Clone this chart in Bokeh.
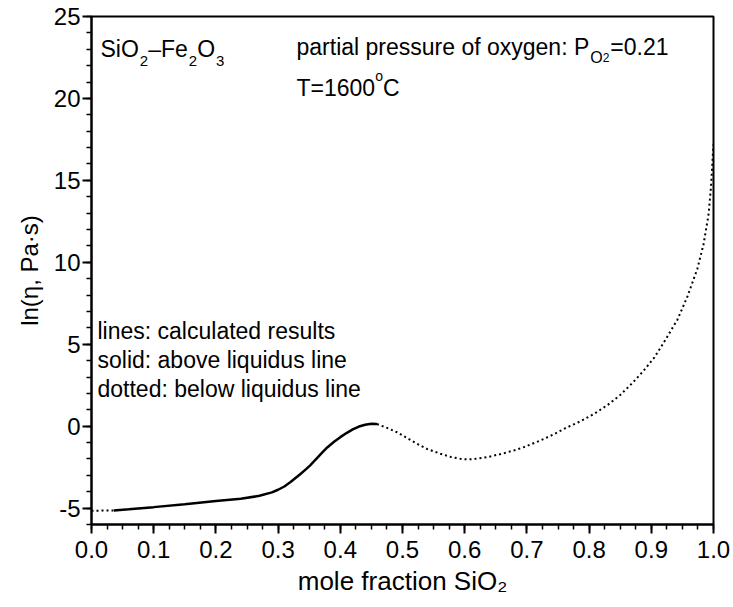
from bokeh.plotting import figure
from bokeh.models import Label, SingleIntervalTicker, PrintfTickFormatter, Range1d
from bokeh.embed import file_html
from bokeh.resources import INLINE

# ---- data ----
solid_x = [0.036, 0.06, 0.10, 0.15, 0.20, 0.24, 0.27, 0.29, 0.30, 0.31, 0.32, 0.335, 0.345,
           0.352, 0.36, 0.37, 0.379, 0.39, 0.40, 0.41, 0.42, 0.43, 0.44, 0.45, 0.459]
solid_y = [-5.14, -5.07, -4.94, -4.76, -4.57, -4.43, -4.25, -4.04, -3.88, -3.68, -3.41, -2.95,
           -2.62, -2.38, -2.05, -1.65, -1.30, -0.95, -0.67, -0.42, -0.20, -0.02, 0.09, 0.15, 0.13]

dot1_x = [0.0, 0.036]
dot1_y = [-5.16, -5.14]

dot2_x = [0.459, 0.475, 0.491, 0.507, 0.523, 0.54, 0.561, 0.578, 0.593, 0.605, 0.615, 0.635,
          0.658, 0.68, 0.695, 0.722, 0.743, 0.762, 0.785, 0.808, 0.83, 0.85, 0.87, 0.888,
          0.905, 0.92, 0.942, 0.958, 0.974, 0.984, 0.992, 0.996, 0.999, 1.0]
dot2_y = [0.13, -0.10, -0.37, -0.72, -1.07, -1.40, -1.68, -1.88, -1.99, -2.03, -2.00, -1.90,
          -1.70, -1.47, -1.28, -0.87, -0.50, -0.12, 0.28, 0.75, 1.30, 1.90, 2.65, 3.40,
          4.20, 5.10, 6.50, 7.90, 9.60, 11.10, 12.90, 14.60, 16.60, 17.20]

x_start, x_end = 0.0, 1.0
y_start, y_end = -6, 25
x_tick_step = 0.1
y_tick_step = 5

y_label = "ln(η, Pa·s)"
x_label = "mole fraction SiO₂"

FONT = "Liberation Sans"

# Arial / Liberation Sans advance widths (per 1000 em)
W = {' ': 278, ':': 278, '.': 278, ',': 278, '=': 584, '–': 556, '(': 333, ')': 333,
     'A': 667, 'C': 722, 'F': 611, 'O': 778, 'P': 667, 'S': 667, 'T': 611,
     'a': 556, 'b': 556, 'c': 500, 'd': 556, 'e': 556, 'f': 278, 'g': 556, 'h': 556,
     'i': 222, 'l': 222, 'm': 833, 'n': 556, 'o': 556, 'p': 556, 'q': 556, 'r': 333,
     's': 500, 't': 278, 'u': 556, 'v': 500, 'w': 722, 'x': 500, 'y': 500, 'z': 500}
for d in "0123456789":
    W[d] = 556


def tw(s, size):
    return sum(W.get(c, 556) for c in s) / 1000.0 * size


# frame geometry in page pixels (used only to place annotations)
CW, CH = 733, 607
FL, FR, FT, FB = 91, 713, 16, 524


def dx(xr):
    return x_start + (xr - FL) / (FR - FL) * (x_end - x_start)


def dy(yr):
    return y_start + (FB - yr) / (FB - FT) * (y_end - y_start)


p = figure(width=CW, height=CH, output_backend="svg", toolbar_location=None,
           x_range=Range1d(x_start, x_end), y_range=Range1d(y_start, y_end),
           min_border_left=FL, min_border_right=CW - FR, min_border_top=FT,
           min_border_bottom=CH - FB)

p.background_fill_color = "white"
p.border_fill_color = "white"
p.outline_line_color = "black"
p.outline_line_width = 2
p.xgrid.visible = False
p.ygrid.visible = False

p.xaxis.ticker = SingleIntervalTicker(interval=x_tick_step, num_minor_ticks=4)
p.yaxis.ticker = SingleIntervalTicker(interval=y_tick_step, num_minor_ticks=5)
p.xaxis.formatter = PrintfTickFormatter(format="%.1f")
p.yaxis.formatter = PrintfTickFormatter(format="%d")

for ax in (p.xaxis, p.yaxis):
    ax.axis_line_color = "black"
    ax.axis_line_width = 2
    ax.major_tick_line_color = "black"
    ax.major_tick_line_width = 2
    ax.minor_tick_line_color = "black"
    ax.minor_tick_line_width = 1.5
    ax.major_tick_in = 0
    ax.major_tick_out = 9
    ax.minor_tick_in = 0
    ax.minor_tick_out = 5
    ax.major_label_text_font = FONT
    ax.major_label_text_font_size = "24px"
    ax.major_label_text_color = "black"
    ax.axis_label_text_font = FONT
    ax.axis_label_text_font_style = "normal"
    ax.axis_label_text_color = "black"

p.yaxis.major_label_standoff = 2
p.xaxis.major_label_standoff = 7
p.yaxis.axis_label = y_label
p.yaxis.axis_label_text_font_size = "24px"
p.yaxis.axis_label_standoff = 8
p.xaxis.axis_label = x_label
p.xaxis.axis_label_text_font_size = "26px"
p.xaxis.axis_label_standoff = 5

# curves
p.line(solid_x, solid_y, line_color="black", line_width=2.5)
p.line(dot1_x, dot1_y, line_color="black", line_width=2, line_dash="2 3")
p.line(dot2_x, dot2_y, line_color="black", line_width=2, line_dash="2 3")


def put(text, xr, yr, size):
    p.add_layout(Label(x=dx(xr), y=dy(yr), x_units="data", y_units="data", text=text,
                       text_font=FONT, text_font_size=f"{size}px", text_color="black",
                       text_align="left", text_baseline="alphabetic"))


def rich(pieces, xr, yr):
    x = xr
    for text, size, off, gap in pieces:
        x += gap
        put(text, x, yr + off, size)
        x += tw(text, size)


# top-left: SiO2–Fe2O3
rich([("SiO", 23, 0, 0), ("2", 15, 12.4, 1), ("–Fe", 23, 0, 0), ("2", 15, 12.4, 1),
      ("O", 23, 0, 0), ("3", 15, 12.4, 1)], 100, 48.3)

# partial pressure line
rich([("partial pressure of oxygen: P", 23, 0, 0), ("O", 16, 10, 1), ("2", 12, 10, 0),
      ("=0.21", 23, 0, 1)], 296, 46.7)

# temperature
rich([("T=1600", 23, 0, 0), ("o", 14, -12, 0), ("C", 23, 0, 0)], 296, 87)

# bottom-left notes
put("lines: calculated results", 97, 330, 23)
put("solid: above liquidus line", 97, 359, 23)
put("dotted: below liquidus line", 97, 388, 23)

open("out.html", "w").write(file_html(p, INLINE))
